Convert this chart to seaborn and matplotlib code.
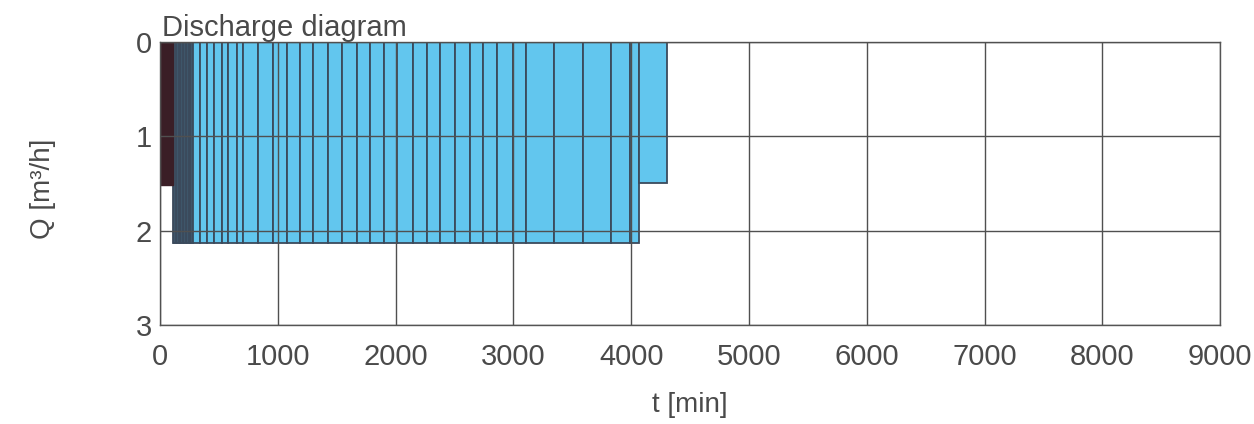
import pandas as pd
import matplotlib.pyplot as plt
import seaborn as sns

# step boundaries of the pumping schedule [min] and discharge per step [m3/h]
start_edges = [0, 110]
start_q = [1.52]

pump_edges = [110, 122, 134, 146, 158, 170, 182, 194, 206, 218, 230, 242, 254,
              266, 280, 340, 400, 458, 526, 577, 654, 705, 832, 959, 1078, 1188,
              1299, 1426, 1545, 1672, 1783, 1902, 2012, 2148, 2267, 2377, 2504,
              2632, 2742, 2861, 2997, 3107, 3345, 3591, 3829, 3990, 4066]
pump_level = 2.13

tail_edges = [4066, 4304]
tail_q = [1.5]

x_ticks = [0, 1000, 2000, 3000, 4000, 5000, 6000, 7000, 8000, 9000]
y_ticks = [0, 1, 2, 3]


def steps(edges, q):
    mids = [(a + b) / 2 for a, b in zip(edges[:-1], edges[1:])]
    return pd.DataFrame({"t": mids, "q": q})


sns.set_theme(style="whitegrid", rc={"grid.color": "#505050", "grid.linewidth": 1.0,
                                     "axes.edgecolor": "#555555", "axes.linewidth": 1.0})
plt.rcParams['font.family'] = ['Liberation Sans', 'DejaVu Sans']
text_col = "#4a4a4a"

fig = plt.figure(figsize=(12.54, 4.24), dpi=100)
ax = fig.add_axes([0.1276, 0.2335, 0.8454, 0.6675])

bar_kw = dict(alpha=1, edgecolor="#3b4a5c", linewidth=1.3, zorder=1)
pump = steps(pump_edges, [pump_level] * (len(pump_edges) - 1))
sns.histplot(data=pump, x="t", weights="q", bins=pump_edges, ax=ax, color="#62c6ee", **bar_kw)

tail = steps(tail_edges, tail_q)
sns.histplot(data=tail, x="t", weights="q", bins=tail_edges, ax=ax, color="#62c6ee", **bar_kw)

start = steps(start_edges, start_q)
sns.histplot(data=start, x="t", weights="q", bins=start_edges, ax=ax,
             color="#3a1e26", alpha=1, edgecolor="#3a1e26", linewidth=1.0, zorder=1)

ax.set_axisbelow(False)
ax.set_xlim(0, 9000)
ax.set_ylim(3, 0)
ax.set_xticks(x_ticks)
ax.set_yticks(y_ticks)
ax.tick_params(axis='both', labelsize=21, labelcolor=text_col, length=0)
ax.tick_params(axis='x', pad=13)
ax.tick_params(axis='y', pad=6)
ax.set_xlabel("t [min]", fontsize=20, color=text_col)
ax.set_ylabel("Q [m³/h]", fontsize=20, color=text_col)
ax.xaxis.set_label_coords(0.5, -0.235)
ax.yaxis.set_label_coords(-0.098, 0.48)
ax.text(0.002, 1.021, "Discharge diagram", transform=ax.transAxes, fontsize=21,
        color=text_col, ha="left", va="baseline")

fig.savefig("out.png", dpi=100, facecolor="white")
